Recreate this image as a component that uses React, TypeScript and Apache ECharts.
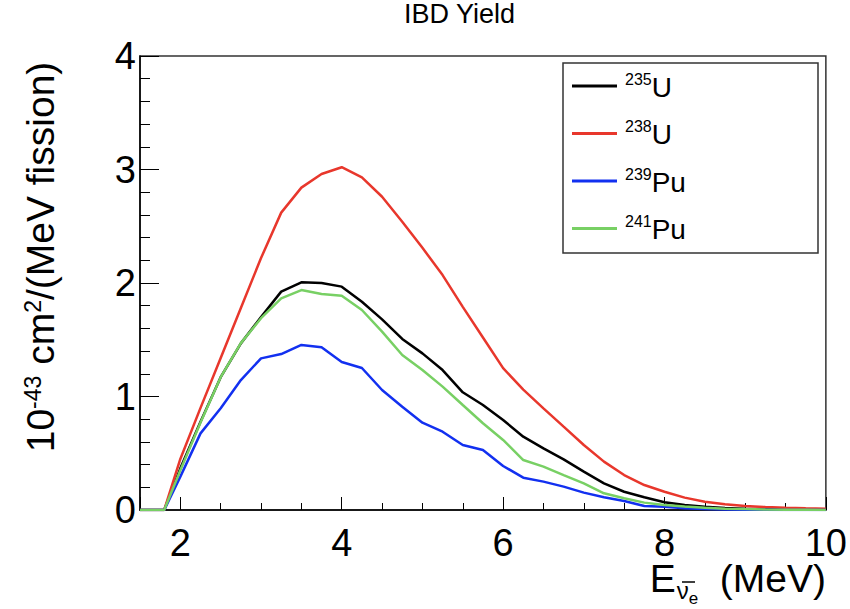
import React, { useEffect, useRef } from "react";
import * as echarts from "echarts";

// Neutrino energy (MeV)
const energies = [
  1.5, 1.8, 2.0, 2.25, 2.5, 2.75, 3.0, 3.25, 3.5, 3.75, 4.0, 4.25, 4.5, 4.75, 5.0, 5.25, 5.5,
  5.75, 6.0, 6.25, 6.5, 6.75, 7.0, 7.25, 7.5, 7.75, 8.0, 8.25, 8.5, 8.75, 9.0, 9.25, 9.5,
  9.75, 10.0,
];

// IBD yield, 10^-43 cm^2/(MeV fission)
const u235 = [
  0, 0, 0.367, 0.778, 1.17, 1.468, 1.7, 1.924, 2.006, 2.0, 1.968, 1.835, 1.68, 1.507, 1.38,
  1.233, 1.037, 0.925, 0.793, 0.646, 0.543, 0.446, 0.338, 0.235, 0.161, 0.112, 0.068, 0.044,
  0.029, 0.018, 0.012, 0.008, 0.005, 0.003, 0.002,
];
const u238 = [
  0, 0, 0.45, 0.9, 1.34, 1.78, 2.22, 2.62, 2.84, 2.96, 3.02, 2.93, 2.76, 2.54, 2.31, 2.07,
  1.79, 1.52, 1.25, 1.06, 0.896, 0.734, 0.573, 0.426, 0.308, 0.22, 0.161, 0.109, 0.073, 0.05,
  0.035, 0.026, 0.02, 0.015, 0.012,
];
const pu239 = [
  0, 0, 0.294, 0.675, 0.896, 1.145, 1.336, 1.374, 1.454, 1.433, 1.304, 1.251, 1.057, 0.91,
  0.769, 0.69, 0.573, 0.529, 0.388, 0.285, 0.25, 0.206, 0.153, 0.112, 0.079, 0.035, 0.029,
  0.015, 0.008, 0.005, 0.003, 0.002, 0.001, 0.001, 0.0,
];
const pu241 = [
  0, 0, 0.35, 0.77, 1.17, 1.47, 1.69, 1.865, 1.938, 1.903, 1.888, 1.762, 1.571, 1.366, 1.233,
  1.087, 0.925, 0.764, 0.617, 0.44, 0.382, 0.308, 0.235, 0.147, 0.103, 0.065, 0.044, 0.03,
  0.02, 0.012, 0.008, 0.005, 0.003, 0.002, 0.001,
];

const seriesNames = ["235U", "238U", "239Pu", "241Pu"];
const massNumbers = ["235", "238", "239", "241"];
const elements = ["U", "U", "Pu", "Pu"];
const seriesValues = [u235, u238, pu239, pu241];
const seriesColors = ["#000000", "#e8372c", "#1230f0", "#78d064"];

const FONT = "'Liberation Sans', Arial, Helvetica, sans-serif";

export default function App() {
  const ref = useRef<HTMLDivElement>(null);

  useEffect(() => {
    if (!ref.current) return;
    const chart = echarts.init(ref.current, null, { renderer: "svg" });

    const series = seriesNames.map((name, i) => ({
      name,
      type: "line",
      symbol: "none",
      smooth: false,
      data: energies.map((e, k) => [e, seriesValues[i][k]]),
      lineStyle: { color: seriesColors[i], width: 2.5 },
      itemStyle: { color: seriesColors[i] },
      z: 3,
    }));

    const option: any = {
      animation: false,
      backgroundColor: "#ffffff",
      title: {
        text: "IBD Yield",
        left: 404,
        top: 0,
        padding: 0,
        textStyle: { fontSize: 27, fontWeight: "normal", color: "#000", fontFamily: FONT },
      },
      grid: {
        left: 140,
        right: 24,
        top: 56,
        bottom: 99,
        show: true,
        borderColor: "#333",
        borderWidth: 1.5,
        backgroundColor: "transparent",
      },
      xAxis: {
        type: "value",
        min: 1.5,
        max: 10,
        splitNumber: 5,
        minInterval: 2,
        maxInterval: 2,
        axisLine: { show: true, onZero: false, lineStyle: { color: "#000", width: 1.5 } },
        axisTick: { show: true, inside: true, length: 13, lineStyle: { color: "#000", width: 1 } },
        minorTick: { show: true, splitNumber: 4, length: 7, lineStyle: { color: "#000", width: 1 } },
        splitLine: { show: false },
        minorSplitLine: { show: false },
        axisLabel: {
          showMinLabel: false,
          fontSize: 38,
          lineHeight: 24,
          margin: 21,
          color: "#000",
          fontFamily: FONT,
        },
      },
      yAxis: {
        type: "value",
        min: 0,
        max: 4,
        interval: 1,
        axisLine: { show: true, onZero: false, lineStyle: { color: "#000", width: 1.5 } },
        axisTick: { show: true, inside: true, length: 19, lineStyle: { color: "#000", width: 1 } },
        minorTick: { show: true, splitNumber: 5, length: 10, lineStyle: { color: "#000", width: 1 } },
        splitLine: { show: false },
        minorSplitLine: { show: false },
        axisLabel: { fontSize: 38, margin: 4, color: "#000", fontFamily: FONT },
        name: "{b|10}{s|-43}{b| cm}{s|2}{b|/(MeV fission)}",
        nameLocation: "middle",
        nameRotate: 90,
        nameGap: 80,
        nameTextStyle: {
          color: "#000",
          fontFamily: FONT,
          padding: [0, 0, 0, 52],
          rich: {
            b: {
              fontSize: 39,
              lineHeight: 39,
              padding: [5, 0, 0, 0],
              verticalAlign: "bottom",
              color: "#000",
              fontFamily: FONT,
            },
            s: {
              fontSize: 23,
              lineHeight: 23,
              verticalAlign: "top",
              color: "#000",
              fontFamily: FONT,
            },
          },
        },
      },
      legend: {
        orient: "vertical",
        left: 572,
        top: 70,
        padding: 0,
        icon: "rect",
        itemWidth: 45,
        itemHeight: 3,
        itemGap: 16.5,
        z: 6,
        data: seriesNames,
        formatter: (name: string) => {
          const i = seriesNames.indexOf(name);
          return `{sup|${massNumbers[i]}}{el|${elements[i]}}`;
        },
        textStyle: {
          color: "#000",
          fontFamily: FONT,
          padding: [0, 0, 0, 3],
          rich: {
            sup: {
              fontSize: 16,
              lineHeight: 16,
              verticalAlign: "top",
              color: "#000",
              fontFamily: FONT,
            },
            el: {
              fontSize: 28,
              lineHeight: 30,
              padding: [3, 0, 0, 0],
              verticalAlign: "bottom",
              color: "#000",
              fontFamily: FONT,
            },
          },
        },
      },
      graphic: [
        {
          type: "rect",
          z: 3,
          shape: { x: 563, y: 63, width: 255, height: 190 },
          style: { fill: "#ffffff", stroke: "#333", lineWidth: 1.5 },
        },
        {
          type: "text",
          right: 24,
          top: 559,
          z: 5,
          style: {
            text: "{e|E}{nu|\u03bd}{sub|e}{u|  (MeV)}",
            fill: "#000",
            rich: {
              e: { fontSize: 39, lineHeight: 23, verticalAlign: "top", fontFamily: FONT, fill: "#000" },
              nu: {
                fontSize: 24,
                lineHeight: 24,
                padding: [19, 0, 0, 1],
                verticalAlign: "top",
                fontFamily: FONT,
                fill: "#000",
              },
              sub: {
                fontSize: 17,
                lineHeight: 17,
                padding: [31, 0, 0, 0],
                verticalAlign: "top",
                fontFamily: FONT,
                fill: "#000",
              },
              u: { fontSize: 39, lineHeight: 23, verticalAlign: "top", fontFamily: FONT, fill: "#000" },
            },
          },
        },
        {
          type: "line",
          z: 5,
          shape: { x1: 682, y1: 582, x2: 695, y2: 582 },
          style: { stroke: "#000", lineWidth: 1.5 },
        },
      ],
      series,
    };

    chart.setOption(option);
    return () => chart.dispose();
  }, []);

  return (
    <div
      ref={ref}
      style={{ position: "fixed", left: 0, top: 0, width: 850, height: 609 }}
    />
  );
}
